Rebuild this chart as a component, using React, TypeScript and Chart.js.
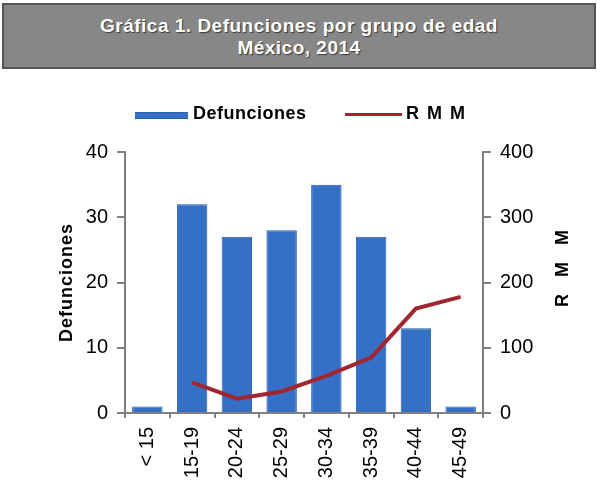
import React, { useEffect, useRef } from 'react';
import { Chart, registerables } from 'chart.js';

Chart.register(...registerables);

const categories = ['< 15', '15-19', '20-24', '25-29', '30-34', '35-39', '40-44', '45-49'];
const defunciones = [1, 32, 27, 28, 35, 27, 13, 1];
const rmm: (number | null)[] = [null, 47, 22, 33, 57, 85, 160, 178];
const leftAxis = { min: 0, max: 40, step: 10 };
const rightAxis = { min: 0, max: 400, step: 100 };
const titleLines = ['Gráfica 1. Defunciones por grupo de edad', 'México, 2014'];
const barLabel = 'Defunciones';
const lineLabel = 'R M M';

const FONT = "'Liberation Sans', Arial, sans-serif";
const AXIS_GRAY = '#808080';
const BAR_BLUE = '#3570C6';
const LINE_RED = '#A12630';

const axisTitlesPlugin = {
  id: 'axisTitles',
  afterDraw(chart: any) {
    const { ctx, chartArea } = chart;
    const midY = (chartArea.top + chartArea.bottom) / 2;
    ctx.save();
    ctx.fillStyle = '#000';
    ctx.font = `bold 18px ${FONT}`;
    ctx.textAlign = 'center';
    ctx.textBaseline = 'middle';
    ctx.save();
    (ctx as any).letterSpacing = '1px';
    ctx.translate(chartArea.left - 58, midY);
    ctx.rotate(-Math.PI / 2);
    ctx.fillText(barLabel, 0, 0);
    ctx.restore();
    ctx.save();
    (ctx as any).letterSpacing = '6px';
    ctx.translate(chartArea.right + 80, midY - 14);
    ctx.rotate(-Math.PI / 2);
    ctx.fillText(lineLabel, 3, 0);
    ctx.restore();
    ctx.restore();
  },
};

export default function App() {
  const canvasRef = useRef<HTMLCanvasElement | null>(null);

  useEffect(() => {
    document.body.style.margin = '0';
    const canvas = canvasRef.current;
    if (!canvas) return;
    const chart = new Chart(canvas, {
      type: 'bar',
      data: {
        labels: categories,
        datasets: [
          {
            type: 'line',
            label: lineLabel,
            data: rmm,
            yAxisID: 'y1',
            borderColor: LINE_RED,
            borderWidth: 4,
            pointRadius: 0,
            tension: 0,
            fill: false,
            order: 0,
          } as any,
          {
            type: 'bar',
            label: barLabel,
            data: defunciones,
            yAxisID: 'y',
            backgroundColor: BAR_BLUE,
            borderColor: '#2A5CA8',
            borderWidth: 1,
            categoryPercentage: 1,
            barPercentage: 0.68,
            order: 1,
          } as any,
        ],
      },
      options: {
        responsive: false,
        animation: false,
        layout: { padding: { top: 152, left: 0, right: 0, bottom: 0 } },
        plugins: {
          legend: { display: false },
          title: { display: false },
          tooltip: { enabled: false },
        },
        scales: {
          x: {
            grid: {
              offset: true,
              drawOnChartArea: false,
              drawTicks: true,
              tickLength: 5,
              color: AXIS_GRAY,
              lineWidth: 2,
            },
            border: { display: true, color: AXIS_GRAY, width: 2 },
            ticks: {
              minRotation: 90,
              maxRotation: 90,
              autoSkip: false,
              padding: 9,
              color: '#000',
              font: { size: 20, family: FONT },
            },
            afterFit(scale: any) {
              scale.height = 91;
            },
          },
          y: {
            position: 'left',
            min: leftAxis.min,
            max: leftAxis.max,
            grid: {
              drawOnChartArea: false,
              drawTicks: true,
              tickLength: 8,
              color: AXIS_GRAY,
              lineWidth: 2,
            },
            border: { display: true, color: AXIS_GRAY, width: 2 },
            ticks: {
              stepSize: leftAxis.step,
              padding: 9,
              color: '#000',
              font: { size: 20, family: FONT },
            },
            afterFit(scale: any) {
              scale.width = 125;
            },
          },
          y1: {
            position: 'right',
            min: rightAxis.min,
            max: rightAxis.max,
            grid: {
              drawOnChartArea: false,
              drawTicks: true,
              tickLength: 8,
              color: AXIS_GRAY,
              lineWidth: 2,
            },
            border: { display: true, color: AXIS_GRAY, width: 2 },
            ticks: {
              stepSize: rightAxis.step,
              padding: 9,
              color: '#000',
              font: { size: 20, family: FONT },
            },
            afterFit(scale: any) {
              scale.width = 114;
            },
          },
        },
      } as any,
      plugins: [axisTitlesPlugin],
    });
    return () => chart.destroy();
  }, []);

  return (
    <div style={{ position: 'relative', width: 597, height: 504, background: '#fff', fontFamily: FONT }}>
      <canvas ref={canvasRef} width={597} height={504} style={{ position: 'absolute', left: 0, top: 0 }} />
      <div
        style={{
          position: 'absolute',
          left: 2,
          top: 3,
          width: 594,
          height: 66,
          boxSizing: 'border-box',
          background: '#878787',
          border: '2px solid #555',
          paddingTop: 10,
          textAlign: 'center',
          color: '#fff',
          fontWeight: 'bold',
          fontSize: 19,
          lineHeight: '22px',
          letterSpacing: '0.5px',
          textShadow: '1px 1px 1px #3a3a3a',
        }}
      >
        {titleLines.map((t) => (
          <div key={t}>{t}</div>
        ))}
      </div>
      <div style={{ position: 'absolute', left: 135, top: 112, width: 53, height: 7, background: BAR_BLUE, borderTop: '1px solid #2A5CA8', borderBottom: '1px solid #2A5CA8', boxSizing: 'border-box' }} />
      <span style={{ position: 'absolute', left: 193, top: 104, fontWeight: 'bold', fontSize: 18, lineHeight: '18px', letterSpacing: '0.5px', color: '#000', whiteSpace: 'nowrap' }}>
        {barLabel}
      </span>
      <div style={{ position: 'absolute', left: 345, top: 113, width: 57, height: 3, background: LINE_RED }} />
      <span style={{ position: 'absolute', left: 406, top: 104, fontWeight: 'bold', fontSize: 18, lineHeight: '18px', letterSpacing: '1.5px', color: '#000', whiteSpace: 'nowrap' }}>
        {lineLabel}
      </span>
    </div>
  );
}
